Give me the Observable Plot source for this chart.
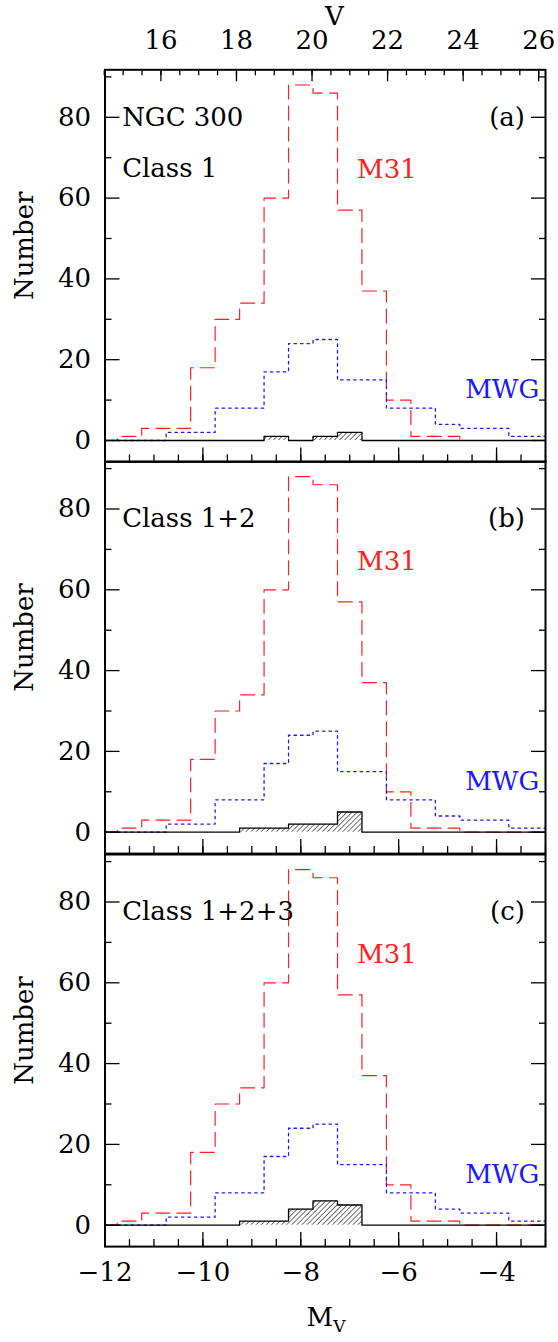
<!DOCTYPE html>
<html><head><meta charset="utf-8">
<script src="https://cdn.jsdelivr.net/npm/d3@7"></script>
<script src="https://cdn.jsdelivr.net/npm/@observablehq/plot@0.6"></script>
<style>
body{margin:0;background:#fff;}
#chart{position:relative;width:558px;height:1342px;background:#fff;}
#chart svg{position:absolute;left:0;overflow:visible;background:transparent;}
</style></head><body><div id="chart"></div>
<script>
// ---- data ----
const binCenters  = [-12,-11.5,-11,-10.5,-10,-9.5,-9,-8.5,-8,-7.5,-7,-6.5,-6,-5.5,-5,-4.5,-4,-3.5,-3];
const m31Counts   = [0,1,3,3,18,30,34,60,88,86,57,37,10,1,1,0,0,0,0];
const mwgCounts   = [0,0,0,2,2,8,8,17,24,25,15,15,8,8,4,3,3,1,1];
const ngcClass1   = [0,0,0,0,0,0,0,1,0,1,2,0,0,0,0,0,0,0,0];
const ngcClass12  = [0,0,0,0,0,0,1,1,2,2,5,0,0,0,0,0,0,0,0];
const ngcClass123 = [0,0,0,0,0,0,1,1,4,6,5,0,0,0,0,0,0,0,0];
const panelTags   = ["(a)","(b)","(c)"];
const classLabels = ["Class 1","Class 1+2","Class 1+2+3"];
const galaxyLabel = "NGC 300";
const yTicksMajor = [0,20,40,60,80];
const yTicksMinor = [10,30,50,70,90];
const xTicksMajor = [-12,-10,-8,-6,-4];
const xTicksMinor = [-12,-11.5,-11,-10.5,-10,-9.5,-9,-8.5,-8,-7.5,-7,-6.5,-6,-5.5,-5,-4.5,-4,-3.5,-3];
const vTicksMajor = [16,18,20,22,24,26];
const vTicksMinor = [14.5,15,15.5,16,16.5,17,17.5,18,18.5,19,19.5,20,20.5,21,21.5,22,22.5,23,23.5,24,24.5,25,25.5,26];

(function () {
// ---- layout ----
const W = 558, ML = 104.5, MR = 13;
const frameTop = 69.3, frameH = 392.1;
const binHalf = 0.25;
const FONT = "DejaVu Serif";
const FS = 26;
const xDomain = [-12, -3];
const yDomain = [-5.3, 91.76];
const vDomain = [14.52, 26.18];

const chart = document.getElementById("chart");
const panels = [ngcClass1, ngcClass12, ngcClass123];

panels.forEach((ngc, i) => {
  const bins = binCenters.map((x, j) => ({x, m31: m31Counts[j], mwg: mwgCounts[j], ngc: ngc[j]}));
  const hatchId = "hatch-" + i;
  const isFirst = i === 0, isLast = i === 2;
  const mt = isFirst ? frameTop : 0;
  const mb = isLast ? 1342 - (frameTop + 3 * frameH) : 0;
  const tagY = isFirst ? 80 : 77.5;
  const marks = [
    Plot.rectY(bins.filter(d => d.ngc > 0), {x1: d => d.x - binHalf, x2: d => d.x + binHalf, y: "ngc", fill: `url(#${hatchId})`, inset: 0}),
    Plot.line(bins, {x: "x", y: "m31", curve: "step", stroke: "#ff2020", strokeWidth: 1.2, strokeDasharray: "14,7"}),
    Plot.line(bins, {x: "x", y: "mwg", curve: "step", stroke: "#1a1aff", strokeWidth: 1.3, strokeDasharray: "2.5,4"}),
    Plot.line(bins, {x: "x", y: "ngc", curve: "step", stroke: "black", strokeWidth: 1.3}),
    Plot.axisY({anchor: "left", ticks: yTicksMajor, tickSize: 0, tickPadding: 14, label: null, fontSize: FS}),
    Plot.axisY({anchor: "left", ticks: yTicksMinor, text: null, tickSize: -7, label: null, strokeWidth: 1.3}),
    Plot.axisY({anchor: "left", ticks: yTicksMajor, text: null, tickSize: -15, label: null, strokeWidth: 1.3}),
    Plot.axisY({anchor: "right", ticks: yTicksMinor, text: null, tickSize: -7, label: null, strokeWidth: 1.3}),
    Plot.axisY({anchor: "right", ticks: yTicksMajor, text: null, tickSize: -15, label: null, strokeWidth: 1.3}),
    Plot.axisX({anchor: "bottom", ticks: xTicksMinor, text: null, tickSize: -7, label: null, strokeWidth: 1.3}),
    Plot.axisX({anchor: "bottom", ticks: xTicksMajor, text: null, tickSize: -14, label: null, strokeWidth: 1.3}),
    Plot.frame({stroke: "black", strokeWidth: 2}),
    Plot.text(["Number"], {frameAnchor: "left", text: d => d, rotate: -90, textAnchor: "middle", dx: -80, dy: -20, fontSize: FS}),
    Plot.text([panelTags[i]], {x: -3.42, y: tagY, text: d => d, textAnchor: "end", fontSize: FS}),
    Plot.text([classLabels[i]], {x: -11.65, y: isFirst ? 67.3 : 77.5, text: d => d, textAnchor: "start", fontSize: FS}),
    Plot.text(["M31"], {x: -6.85, y: 67, text: d => d, textAnchor: "start", fill: "#ff2020", fontSize: FS}),
    Plot.text(["MWG"], {x: -4.64, y: 12.5, text: d => d, textAnchor: "start", fill: "#1a1aff", fontSize: FS})
  ];
  if (isFirst) marks.push(Plot.text([galaxyLabel], {x: -11.65, y: 80, text: d => d, textAnchor: "start", fontSize: FS}));
  if (isLast) marks.push(Plot.axisX({anchor: "bottom", ticks: xTicksMajor, tickSize: 0, tickPadding: 16, label: null, fontSize: FS}));

  const svg = Plot.plot({
    width: W, height: mt + frameH + mb,
    marginLeft: ML, marginRight: MR, marginTop: mt, marginBottom: mb,
    x: {domain: xDomain}, y: {domain: yDomain},
    style: {fontFamily: FONT, fontSize: FS + "px", background: "transparent", overflow: "visible"},
    marks
  });
  const defs = d3.select(svg).insert("defs", ":first-child");
  const pat = defs.append("pattern").attr("id", hatchId).attr("patternUnits", "userSpaceOnUse")
    .attr("width", 3.6).attr("height", 3.6).attr("patternTransform", "rotate(45)");
  pat.append("line").attr("x1", 0).attr("y1", 0).attr("x2", 0).attr("y2", 3.6).attr("stroke", "black").attr("stroke-width", 1.1);
  if (isLast) {
    const t = d3.select(svg).append("text").attr("x", 326).attr("y", mt + frameH + 80)
      .attr("text-anchor", "middle").attr("font-family", FONT).attr("font-size", FS).attr("fill", "black");
    t.append("tspan").text("M");
    t.append("tspan").attr("font-size", 17).attr("dy", 6).text("V");
  }
  svg.style.top = (isFirst ? 0 : frameTop + i * frameH) + "px";
  chart.appendChild(svg);
});

// top V axis
const topAxis = Plot.plot({
  width: W, height: frameTop, marginLeft: ML, marginRight: MR, marginTop: frameTop, marginBottom: 0,
  x: {domain: vDomain},
  style: {fontFamily: FONT, fontSize: FS + "px", background: "transparent", overflow: "visible"},
  marks: [
    Plot.axisX({anchor: "top", ticks: vTicksMinor, text: null, tickSize: -5, label: null, strokeWidth: 1.3}),
    Plot.axisX({anchor: "top", ticks: vTicksMajor, text: null, tickSize: -11, label: null, strokeWidth: 1.3}),
    Plot.axisX({anchor: "top", ticks: vTicksMajor, tickSize: 0, tickPadding: 21, label: null, fontSize: FS}),
    Plot.text(["V"], {frameAnchor: "top-left", textAnchor: "middle", dx: 334 - ML, dy: -63, text: d => d, fontSize: FS})
  ]
});
topAxis.style.top = "0px";
chart.appendChild(topAxis);
})();
</script></body></html>
